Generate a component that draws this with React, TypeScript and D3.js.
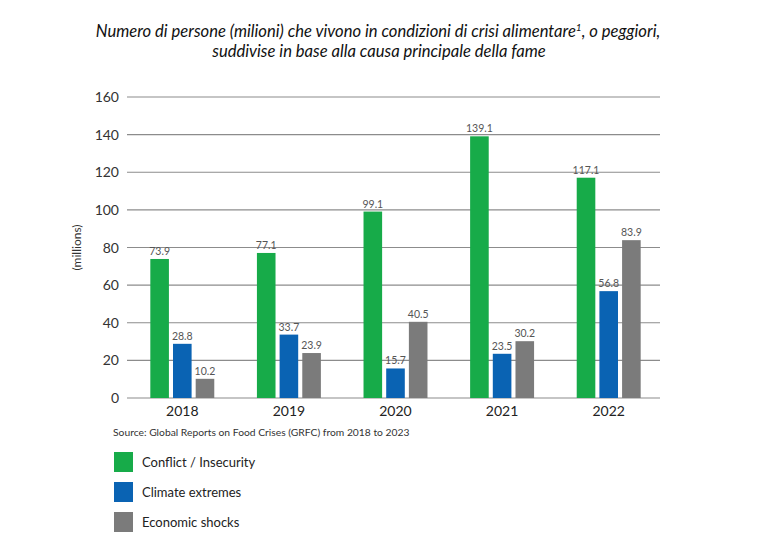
import React, { useEffect, useRef } from 'react';
import * as d3 from 'd3';

const years = ['2018', '2019', '2020', '2021', '2022'];
const seriesNames = ['Conflict / Insecurity', 'Climate extremes', 'Economic shocks'];
const conflict = [73.9, 77.1, 99.1, 139.1, 117.1];
const climate = [28.8, 33.7, 15.7, 23.5, 56.8];
const economic = [10.2, 23.9, 40.5, 30.2, 83.9];
const colors = ['#17ab49', '#0a63b3', '#7b7b7b'];
const yTicks = [0, 20, 40, 60, 80, 100, 120, 140, 160];

const FONT = 'Lato, "Open Sans", sans-serif';

const App = () => {
  const ref = useRef<SVGSVGElement>(null);

  useEffect(() => {
    const svg = d3.select(ref.current);
    svg.selectAll('*').remove();

    const width = 767;
    const height = 546;
    svg.attr('width', width).attr('height', height);

    svg.append('rect').attr('width', width).attr('height', height).attr('fill', '#fff');

    const left = 127;
    const right = 660;
    const top = 97;
    const bottom = 398;

    const x = d3.scaleBand().domain(years).range([left + 2, right + 2]).paddingInner(0.4).paddingOuter(0.2);
    const inner = d3.scaleBand().domain(['0', '1', '2']).range([0, x.bandwidth()]).paddingInner(0.18);
    const y = d3.scaleLinear().domain([0, 160]).range([bottom, top]);

    // title
    const title = svg.append('text')
      .attr('text-anchor', 'middle')
      .attr('font-family', FONT)
      .attr('font-style', 'italic')
      .attr('font-size', 16.6)
      .attr('fill', '#111');
    title.append('tspan').attr('x', 378).attr('y', 37)
      .text('Numero di persone (milioni) che vivono in condizioni di crisi alimentare');
    title.append('tspan').attr('font-size', 10).attr('dy', -6).text('1');
    title.append('tspan').attr('dy', 6).text(', o peggiori,');
    title.append('tspan').attr('x', 379).attr('y', 57)
      .text('suddivise in base alla causa principale della fame');

    // grid
    svg.append('g')
      .selectAll('line')
      .data(yTicks)
      .join('line')
      .attr('x1', left)
      .attr('x2', right)
      .attr('y1', d => y(d))
      .attr('y2', d => y(d))
      .attr('stroke', '#8c8c8c')
      .attr('stroke-width', 1.2);

    svg.append('g')
      .selectAll('text')
      .data(yTicks)
      .join('text')
      .attr('x', 119)
      .attr('y', d => y(d) + 5)
      .attr('text-anchor', 'end')
      .attr('font-family', FONT)
      .attr('font-size', 14)
      .attr('fill', '#333')
      .text(d => d);

    svg.append('text')
      .attr('transform', `translate(81,${(top + bottom) / 2}) rotate(-90)`)
      .attr('text-anchor', 'middle')
      .attr('font-family', FONT)
      .attr('font-size', 12)
      .attr('fill', '#333')
      .text('(millions)');

    const series = [conflict, climate, economic];
    const groups = svg.append('g')
      .selectAll('g')
      .data(years)
      .join('g')
      .attr('transform', d => `translate(${x(d)},0)`);

    groups.each(function (yr, i) {
      const g = d3.select(this);
      series.forEach((vals, s) => {
        const v = vals[i];
        const bx = inner(String(s)) as number;
        g.append('rect')
          .attr('x', bx)
          .attr('y', y(v))
          .attr('width', inner.bandwidth())
          .attr('height', y(0) - y(v))
          .attr('fill', colors[s]);
        g.append('text')
          .attr('x', bx + inner.bandwidth() / 2)
          .attr('y', y(v) - 4)
          .attr('text-anchor', 'middle')
          .attr('font-family', FONT)
          .attr('font-size', 10.5)
          .attr('fill', '#555')
          .text(v.toFixed(1));
      });
    });

    svg.append('g')
      .selectAll('text')
      .data(years)
      .join('text')
      .attr('x', d => (x(d) as number) + x.bandwidth() / 2)
      .attr('y', 416)
      .attr('text-anchor', 'middle')
      .attr('font-family', FONT)
      .attr('font-size', 14)
      .attr('fill', '#222')
      .text(d => d);

    svg.append('text')
      .attr('x', 113)
      .attr('y', 436)
      .attr('font-family', FONT)
      .attr('font-size', 10.3)
      .attr('fill', '#333')
      .text('Source: Global Reports on Food Crises (GRFC) from 2018 to 2023');

    const legend = svg.append('g')
      .selectAll('g')
      .data(seriesNames)
      .join('g')
      .attr('transform', (d, i) => `translate(114,${452 + i * 30})`);
    legend.append('rect')
      .attr('width', 19)
      .attr('height', 20)
      .attr('fill', (d, i) => colors[i]);
    legend.append('text')
      .attr('x', 28)
      .attr('y', 15)
      .attr('font-family', FONT)
      .attr('font-size', 13)
      .attr('fill', '#222')
      .text(d => d);
  }, []);

  return <svg ref={ref} style={{ position: 'absolute', left: 0, top: 0 }}></svg>;
};

export default App;
